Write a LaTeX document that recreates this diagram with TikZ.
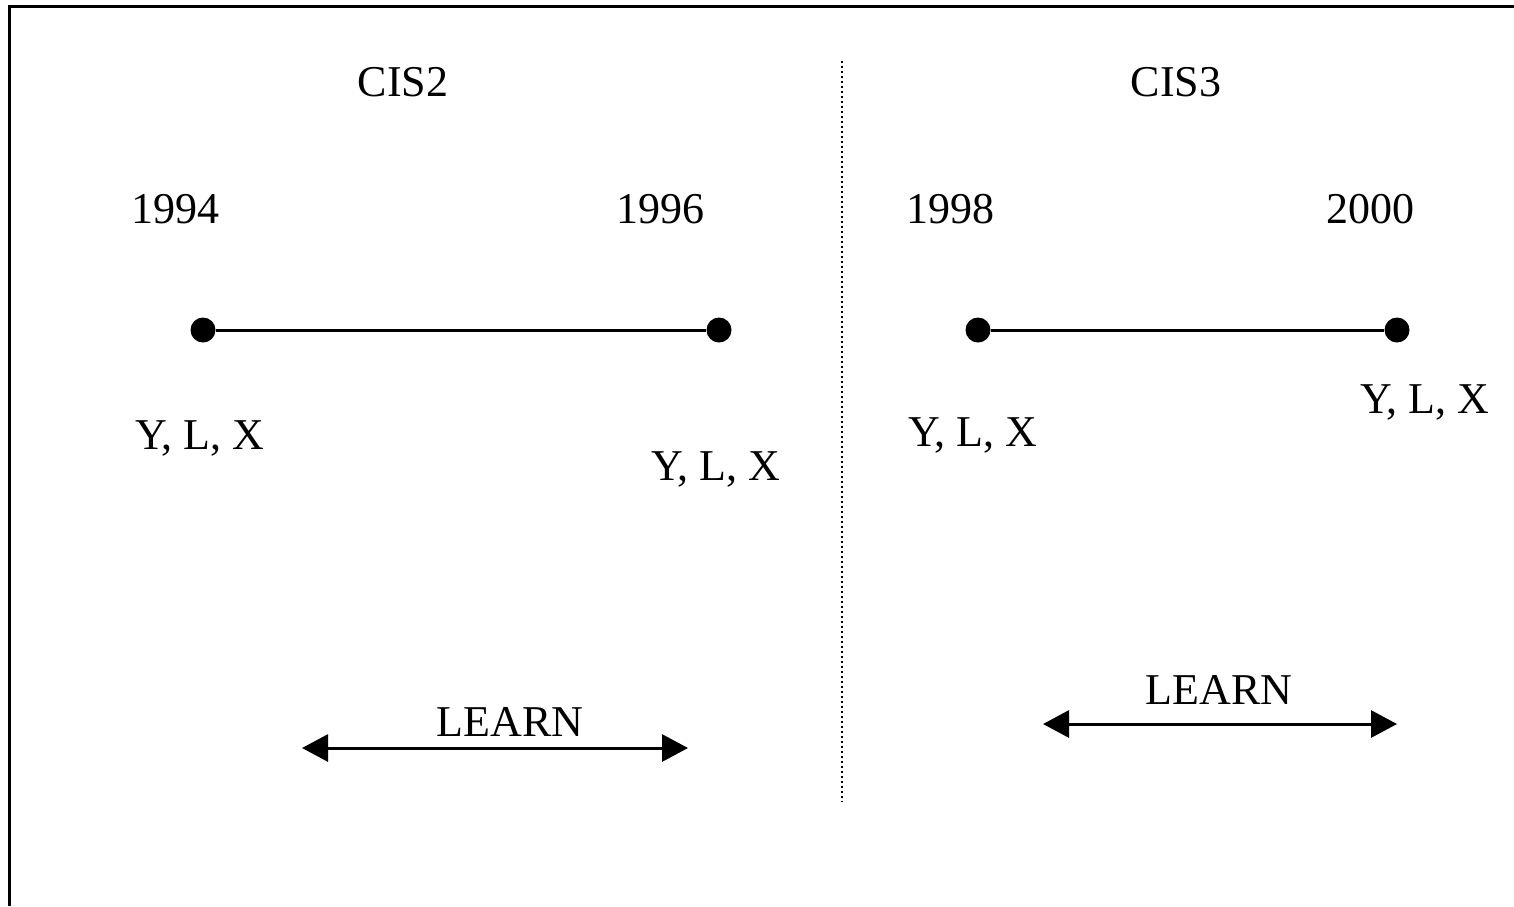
\documentclass[tikz,border=0pt]{standalone}
\usepackage{fontspec}
\setmainfont{Liberation Serif}
\usetikzlibrary{arrows.meta}
\begin{document}
\begin{tikzpicture}[x=1pt,y=-1pt,
  lbl/.style={anchor=base,inner sep=0pt,font=\fontsize{44}{52}\selectfont},
  dotnode/.style={circle,fill=black,inner sep=0pt,minimum size=25pt},
  tline/.style={line width=3pt},
  learnarrow/.style={line width=3pt,{Triangle[length=26pt,width=27pt]}-{Triangle[length=26pt,width=27pt]}},
  framestyle/.style={line width=3pt},
  divider/.style={line width=1.5pt,dash pattern=on 1.5pt off 3.5pt}]
\useasboundingbox (0,0) rectangle (1514,906);
% frame (top and left edges)
\coordinate (ftl) at (9,6);
\coordinate (ftr) at (1514,6);
\coordinate (fbl) at (9,906);
\draw[framestyle] (ftr) -- (ftl) -- (fbl);
% divider
\coordinate (dtop) at (842,61);
\coordinate (dbot) at (842,802);
\draw[divider] (dtop) -- (dbot);
% titles
\node[lbl] (cis2) at (403,96) {CIS2};
\node[lbl] (cis3) at (1176,96) {CIS3};
% years
\node[lbl] (y94) at (175,223) {1994};
\node[lbl] (y96) at (660,223) {1996};
\node[lbl] (y98) at (950,223) {1998};
\node[lbl] (y00) at (1370,223) {2000};
% timelines
\node[dotnode] (d94) at (203,330) {};
\node[dotnode] (d96) at (719,330) {};
\node[dotnode] (d98) at (978,330) {};
\node[dotnode] (d00) at (1397,330) {};
\draw[tline] (d94) -- (d96);
\draw[tline] (d98) -- (d00);
% variables
\node[lbl] (v94) at (200,449) {Y, L, X};
\node[lbl] (v96) at (716,480) {Y, L, X};
\node[lbl] (v98) at (973,446) {Y, L, X};
\node[lbl] (v00) at (1425,413) {Y, L, X};
% learn arrows
\node[lbl] (learn1) at (510,736) {LEARN};
\node[lbl] (learn2) at (1219,704) {LEARN};
\coordinate (a1l) at (302,748);
\coordinate (a1r) at (688,748);
\coordinate (a2l) at (1043,724);
\coordinate (a2r) at (1397,724);
\draw[learnarrow] (a1l) -- (a1r);
\draw[learnarrow] (a2l) -- (a2r);
\end{tikzpicture}
\end{document}
